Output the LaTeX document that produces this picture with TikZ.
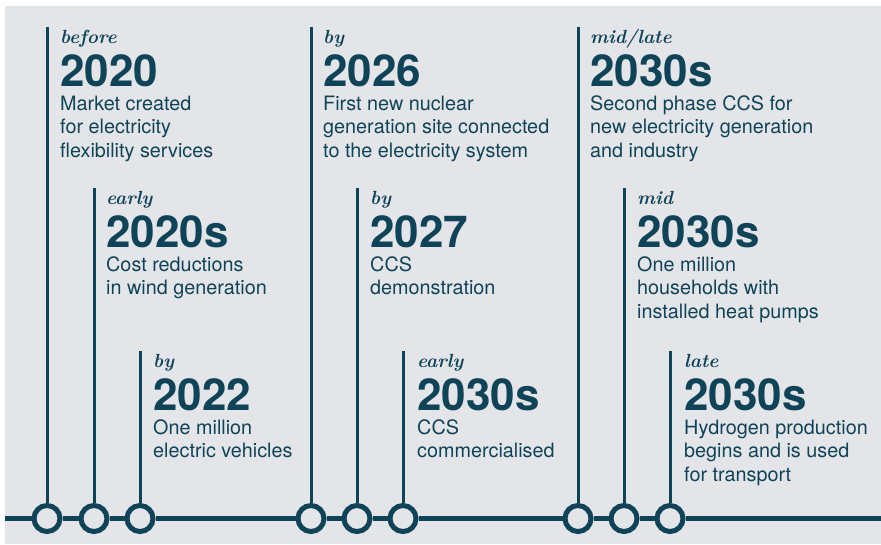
\documentclass[tikz,border=0pt]{standalone}
\usepackage{fontspec}
\newfontfamily\helv{TeX Gyre Heros}
\usetikzlibrary{positioning}

\definecolor{ccteal}{HTML}{0F4357}
\definecolor{ccgrey}{HTML}{E4E5E9}

% lines of an event, baseline on the first one
\newcommand{\evlines}[1]{\begin{tabular}[t]{@{}l@{}}#1\end{tabular}}

\tikzset{
    stem/.style={draw=ccteal, line width=3pt},
    axis/.style={draw=ccteal, line width=5pt},
    milestone/.style={circle, draw=ccteal, fill=ccgrey, line width=5pt,
        minimum size=26pt, inner sep=0pt},
    when/.style={anchor=base west, text=ccteal, inner sep=0pt,
        font=\fontsize{19}{23}\selectfont\bfseries\itshape},
    year/.style={anchor=base west, text=ccteal, inner sep=0pt,
        font=\helv\bfseries\fontsize{44}{44}\selectfont},
    event/.style={anchor=base west, text=ccteal, inner sep=0pt,
        font=\helv\fontsize{19.8}{23.5}\selectfont}
}

\begin{document}
\begin{tikzpicture}[x=1pt, y=-1pt]
\useasboundingbox (0,0) rectangle (881,544);
\fill[ccgrey] (5,6) rectangle (881,544);

% Milestones on the timeline
\node[milestone] (m1) at (47,518.5) {};
\node[milestone] (m2) at (94,518.5) {};
\node[milestone] (m3) at (140,518.5) {};
\node[milestone] (m4) at (311,518.5) {};
\node[milestone] (m5) at (357,518.5) {};
\node[milestone] (m6) at (403,518.5) {};
\node[milestone] (m7) at (578,518.5) {};
\node[milestone] (m8) at (624,518.5) {};
\node[milestone] (m9) at (670,518.5) {};
\coordinate (tl start) at (5,518.5);
\coordinate (tl end) at (881,518.5);
\draw[axis] (tl start) -- (m1) -- (m2) -- (m3) -- (m4) -- (m5)
    -- (m6) -- (m7) -- (m8) -- (m9) -- (tl end);

% First group
\node[when] (w1) at (60,43) {before};
\node[year] (y1) at ([yshift=-43pt]w1.base west) {2020};
\node[event] (e1) at ([yshift=-24pt]y1.base west) {\evlines{Market created\\for electricity\\flexibility services}};
\node[when] (w2) at (106,204) {early};
\node[year] (y2) at ([yshift=-43pt]w2.base west) {2020s};
\node[event] (e2) at ([yshift=-24pt]y2.base west) {\evlines{Cost reductions\\in wind generation}};
\node[when] (w3) at (153,367) {by};
\node[year] (y3) at ([yshift=-43pt]w3.base west) {2022};
\node[event] (e3) at ([yshift=-24pt]y3.base west) {\evlines{One million\\electric vehicles}};

% Second group
\node[when] (w4) at (323,43) {by};
\node[year] (y4) at ([yshift=-43pt]w4.base west) {2026};
\node[event] (e4) at ([yshift=-24pt]y4.base west) {\evlines{First new nuclear\\generation site connected\\to the electricity system}};
\node[when] (w5) at (370,204) {by};
\node[year] (y5) at ([yshift=-43pt]w5.base west) {2027};
\node[event] (e5) at ([yshift=-24pt]y5.base west) {\evlines{CCS\\demonstration}};
\node[when] (w6) at (417,367) {early};
\node[year] (y6) at ([yshift=-43pt]w6.base west) {2030s};
\node[event] (e6) at ([yshift=-24pt]y6.base west) {\evlines{CCS\\commercialised}};

% Third group
\node[when] (w7) at (590,43) {mid/late};
\node[year] (y7) at ([yshift=-43pt]w7.base west) {2030s};
\node[event] (e7) at ([yshift=-24pt]y7.base west) {\evlines{Second phase CCS for\\new electricity generation\\and industry}};
\node[when] (w8) at (637,204) {mid};
\node[year] (y8) at ([yshift=-43pt]w8.base west) {2030s};
\node[event] (e8) at ([yshift=-24pt]y8.base west) {\evlines{One million\\households with\\installed heat pumps}};
\node[when] (w9) at (684,367) {late};
\node[year] (y9) at ([yshift=-43pt]w9.base west) {2030s};
\node[event] (e9) at ([yshift=-24pt]y9.base west) {\evlines{Hydrogen production\\begins and is used\\for transport}};

% Stems
\draw[stem] (m1) -- ([yshift=16pt]m1 |- w1.base);
\draw[stem] (m2) -- ([yshift=16pt]m2 |- w2.base);
\draw[stem] (m3) -- ([yshift=16pt]m3 |- w3.base);
\draw[stem] (m4) -- ([yshift=16pt]m4 |- w4.base);
\draw[stem] (m5) -- ([yshift=16pt]m5 |- w5.base);
\draw[stem] (m6) -- ([yshift=16pt]m6 |- w6.base);
\draw[stem] (m7) -- ([yshift=16pt]m7 |- w7.base);
\draw[stem] (m8) -- ([yshift=16pt]m8 |- w8.base);
\draw[stem] (m9) -- ([yshift=16pt]m9 |- w9.base);
\end{tikzpicture}
\end{document}
